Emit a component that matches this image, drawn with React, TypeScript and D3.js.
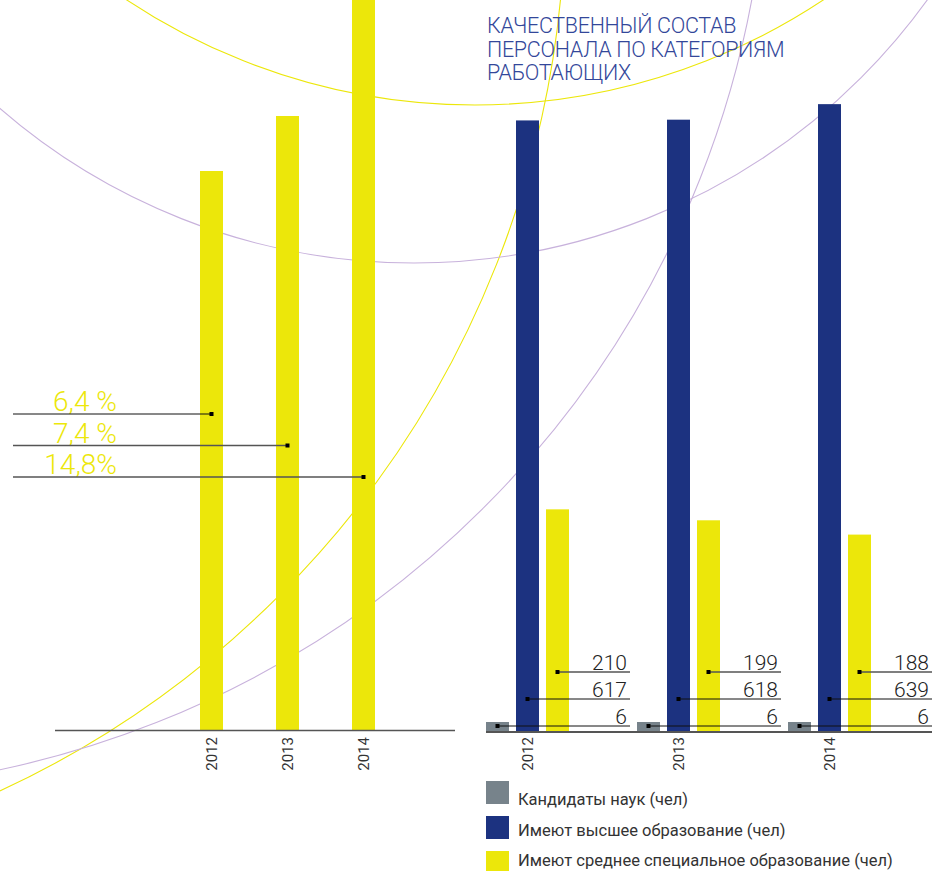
import React from 'react';
import * as d3 from 'd3';

const years = ['2012', '2013', '2014'];
const shareValues = [6.4, 7.4, 14.8];
const shareLabels = ['6,4 %', '7,4 %', '14,8%'];
const candidates = [6, 6, 6];
const higherEdu = [617, 618, 639];
const secondaryEdu = [210, 199, 188];
const seriesNames = [
  'Кандидаты наук (чел)',
  'Имеют высшее образование (чел)',
  'Имеют среднее специальное образование (чел)',
];
const titleLines = ['КАЧЕСТВЕННЫЙ СОСТАВ', 'ПЕРСОНАЛА ПО КАТЕГОРИЯМ', 'РАБОТАЮЩИХ'];

const W = 932;
const H = 871;
const YELLOW = '#ece70a';
const BLUE = '#1c3280';
const GRAY = '#77838b';
const PURPLE = '#c8b2dc';
const FONT = 'Roboto, "Liberation Sans", Arial, sans-serif';

export default function App() {
  // left chart
  const xL = d3.scalePoint<string>().domain(years).range([211.5, 363.5]);
  const yL = d3.scaleLinear().domain([0, 6.4, 7.4]).range([730, 171, 116]);
  const barW = 23;
  const baseL = 730;

  // right chart
  const xG = d3.scalePoint<string>().domain(years).range([486, 788]);
  const xS = d3.scaleBand<number>().domain([0, 1, 2]).range([0, 83]).paddingInner(7 / 30).paddingOuter(0);
  const yR = d3.scaleLinear().domain([0, 10, 180, 200, 600, 650]).range([731, 716, 545, 519, 133, 96]);
  const baseR = 731;
  const series = [candidates, higherEdu, secondaryEdu];
  const colors = [GRAY, BLUE, YELLOW];

  const arcs = [
    { cx: 475, cy: -524, r: 629, c: YELLOW },
    { cx: -412, cy: -95, r: 977, c: YELLOW },
    { cx: 414, cy: -369, r: 632, c: PURPLE },
    { cx: -200, cy: -177.5, r: 968, c: PURPLE },
  ];

  return (
    <svg width={W} height={H} style={{ position: 'absolute', left: 0, top: 0, background: '#fff' }} fontFamily={FONT}>
      <rect x={0} y={0} width={W} height={H} fill="#fff" />
      {arcs.map((a, i) => (
        <circle key={i} cx={a.cx} cy={a.cy} r={a.r} fill="none" stroke={a.c} strokeWidth={1.1} />
      ))}

      {/* title */}
      <text x={487} y={33} fill="#33479a" fontSize={21.5} fontWeight={300} letterSpacing={-0.3}>
        {titleLines.map((t, i) => (
          <tspan key={i} x={487} y={33 + i * 23.5}>{t}</tspan>
        ))}
      </text>

      {/* left bars */}
      {years.map((yr, i) => {
        const cx = xL(yr)!;
        const top = yL(shareValues[i]);
        return <rect key={yr} x={cx - barW / 2} y={top} width={barW} height={baseL - top} fill={YELLOW} />;
      })}
      <line x1={55} x2={455} y1={baseL + 0.5} y2={baseL + 0.5} stroke="#555" strokeWidth={1.5} />
      {years.map((yr) => (
        <text key={yr} transform={`translate(${xL(yr)},737) rotate(-90)`} textAnchor="end" dominantBaseline="central" fontSize={15} fill="#333">{yr}</text>
      ))}
      {years.map((yr, i) => {
        const ly = 414 + i * 31.5;
        const cx = xL(yr)!;
        return (
          <g key={yr}>
            <text x={117} y={ly - 3} textAnchor="end" fontSize={28} fontWeight={300} fill={YELLOW}>{shareLabels[i]}</text>
            <line x1={13} x2={cx} y1={ly} y2={ly} stroke={i === 0 ? '#111' : '#555'} strokeWidth={i === 0 ? 1 : 1.5} />
            <rect x={cx - 2} y={ly - 2} width={4} height={4} fill="#000" />
          </g>
        );
      })}

      {/* right bars */}
      {years.map((yr, gi) => (
        <g key={yr}>
          {series.map((s, si) => {
            const x = xG(yr)! + xS(si)!;
            const top = yR(s[gi]);
            return <rect key={si} x={x} y={top} width={xS.bandwidth()} height={baseR - top} fill={colors[si]} />;
          })}
        </g>
      ))}
      <line x1={486} x2={W} y1={baseR + 1} y2={baseR + 1} stroke="#555" strokeWidth={2} />
      {years.map((yr) => (
        <text key={yr} transform={`translate(${xG(yr)! + xS(1)! + xS.bandwidth() / 2},737) rotate(-90)`} textAnchor="end" dominantBaseline="central" fontSize={15} fill="#333">{yr}</text>
      ))}
      {years.map((yr, gi) => {
        const endX = xG(yr)! + 144;
        return (
          <g key={yr}>
            {[2, 1, 0].map((si, row) => {
              const ly = 672 + row * 27;
              const cx = xG(yr)! + xS(si)! + xS.bandwidth() / 2;
              return (
                <g key={si}>
                  <line x1={cx} x2={endX} y1={ly} y2={ly} stroke={row === 0 ? '#555' : '#111'} strokeWidth={row === 0 ? 1.4 : 1} />
                  <rect x={cx - 2} y={ly - 2} width={4} height={4} fill="#000" />
                  <text x={endX - 3} y={ly - 2.5} textAnchor="end" fontSize={21} fontWeight={300} fill="#222">{series[si][gi]}</text>
                </g>
              );
            })}
          </g>
        );
      })}

      {/* legend */}
      {seriesNames.map((name, i) => (
        <g key={name}>
          <rect x={486} y={781 + i * 35} width={23} height={23} fill={colors[i]} />
          <text x={518} y={805 + i * 30.5} fontSize={16.5} fill="#333">{name}</text>
        </g>
      ))}
    </svg>
  );
}
